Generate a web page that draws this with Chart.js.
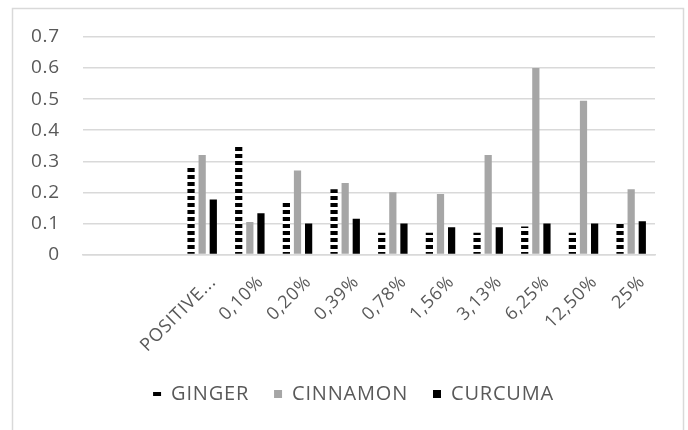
<!DOCTYPE html>
<html>
<head>
<meta charset="utf-8">
<script src="https://cdn.jsdelivr.net/npm/chart.js@4"></script>
<style>
html,body{margin:0;padding:0;background:#fff;}
#wrap{position:relative;width:688px;height:430px;}
</style>
</head>
<body>
<div id="wrap"><canvas id="c" width="688" height="430"></canvas></div>
<script>
const categories = ['', '', 'POSITIVE...', '0,10%', '0,20%', '0,39%', '0,78%', '1,56%', '3,13%', '6,25%', '12,50%', '25%'];
const ginger   = [null, null, 0.28, 0.35, 0.17, 0.21, 0.07, 0.07, 0.07, 0.09, 0.07, 0.10];
const cinnamon = [null, null, 0.32, 0.105, 0.27, 0.23, 0.20, 0.195, 0.32, 0.60, 0.495, 0.21];
const curcuma  = [null, null, 0.177, 0.133, 0.10, 0.115, 0.10, 0.088, 0.088, 0.10, 0.10, 0.107];
const yTicks = [0, 0.1, 0.2, 0.3, 0.4, 0.5, 0.6, 0.7];

function dashPattern(){
  const p = document.createElement('canvas');
  p.width = 8; p.height = 7;
  const g = p.getContext('2d');
  g.fillStyle = '#ffffff'; g.fillRect(0,0,8,7);
  g.fillStyle = '#000000'; g.fillRect(0,0,8,4);
  return g.createPattern(p, 'repeat');
}
const ctx = document.getElementById('c').getContext('2d');
const pat = dashPattern();

const spacingPlugin = {
  id: 'spacing',
  beforeLayout(chart){ chart.ctx.letterSpacing = '0.8px'; },
  afterLayout(chart){
    const l = chart.legend;
    if (l) { l.left += 52; l.width = l.right - l.left; if (l.adjustHitBoxes) l.adjustHitBoxes(); }
  },
  beforeDraw(chart){
    const c = chart.ctx;
    c.letterSpacing = '0.8px';
    c.save();
    c.strokeStyle = '#d9d9d9';
    c.lineWidth = 1.5;
    c.strokeRect(12.5, 8.5, 671, 440);
    c.restore();
  }
};

const font = "'Open Sans', 'Liberation Sans', sans-serif";
new Chart(ctx, {
  type: 'bar',
  data: {
    labels: categories,
    datasets: [
      {label: 'GINGER', data: ginger, backgroundColor: pat},
      {label: 'CINNAMON', data: cinnamon, backgroundColor: '#a6a6a6'},
      {label: 'CURCUMA', data: curcuma, backgroundColor: '#000000'}
    ]
  },
  options: {
    responsive: false,
    animation: false,
    devicePixelRatio: 1,
    datasets: {bar: {categoryPercentage: 0.7, barPercentage: 0.65}},
    layout: {padding: {left: 0, right: 33, top: 37, bottom: 16}},
    plugins: {
      tooltip: {enabled: false},
      legend: {
        position: 'bottom',
        labels: {
          boxWidth: 8, boxHeight: 8, padding: 25,
          color: '#595959',
          font: {family: font, size: 20}
        }
      }
    },
    scales: {
      x: {
        grid: {display: false, drawTicks: false},
        border: {display: true, color: '#d9d9d9', width: 1.5},
        ticks: {
          color: '#595959', font: {family: font, size: 18},
          minRotation: 45, maxRotation: 45, autoSkip: false, padding: 17, labelOffset: 11
        },
        afterFit(s){ s.height = 104.5; }
      },
      y: {
        min: 0, max: 0.7,
        afterBuildTicks(s){ s.ticks = yTicks.map(v => ({value: v})); },
        grid: {color: '#d9d9d9', lineWidth: 1.5, drawTicks: false},
        border: {display: false},
        ticks: {
          color: '#595959', font: {family: font, size: 19}, padding: 23,
          callback: v => String(v)
        },
        afterFit(s){ s.width = 83; }
      }
    }
  },
  plugins: [spacingPlugin]
});
</script>
</body>
</html>
